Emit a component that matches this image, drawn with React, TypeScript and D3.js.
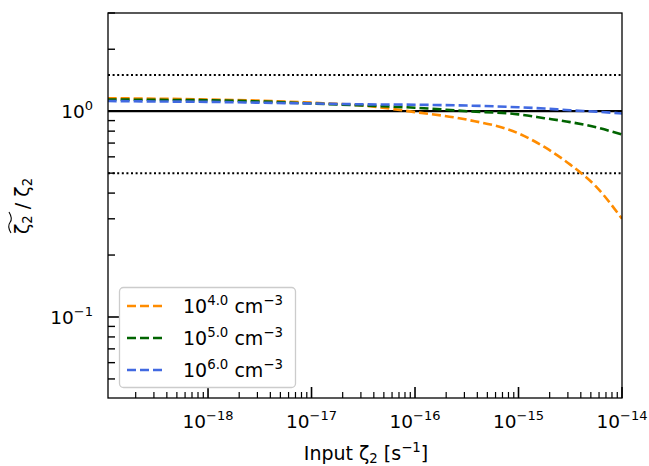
import React from 'react';
import * as d3 from 'd3';

// x sample points (log10 of input zeta_2, s^-1)
const logX = [-18.97, -18.5, -18, -17.5, -17, -16.5, -16, -15.5, -15, -14.75, -14.5, -14.25, -14];
// ratio recovered / input for each density
const orangeVals = [1.156, 1.15, 1.14, 1.125, 1.1, 1.065, 0.99, 0.91, 0.78, 0.67, 0.55, 0.43, 0.3];
const greenVals = [1.14, 1.135, 1.13, 1.115, 1.09, 1.065, 1.04, 1.0, 0.965, 0.925, 0.885, 0.835, 0.77];
const blueVals = [1.12, 1.115, 1.11, 1.1, 1.09, 1.08, 1.075, 1.065, 1.045, 1.03, 1.01, 0.995, 0.975];

const seriesNames = ['4.0', '5.0', '6.0'];
const seriesColors = ['#ff8c00', '#006400', '#4169e1'];
const seriesData = [orangeVals, greenVals, blueVals];

const xMajor = [-18, -17, -16, -15, -14];
const yMajor = [-1, 0];
const refLines = [1.5, 0.5];

const W = 649, H = 466;
const m = { left: 108, right: 622, top: 13, bottom: 398 };
const font = 'DejaVu Sans, sans-serif';
const fs = 18.5, sfs = 13;

export default function App() {
  const x = d3.scaleLog().domain([1.08e-19, 1e-14]).range([m.left, m.right]);
  const y = d3.scaleLog().domain([0.0404, 3.0]).range([m.bottom, m.top]);

  const line = d3.line<[number, number]>()
    .x(d => x(d[0]))
    .y(d => y(d[1]))
    .curve(d3.curveMonotoneX);

  // minor ticks
  const xMinor: number[] = [];
  for (let e = -19; e < -14; e++) {
    for (let k = 2; k <= 9; k++) {
      const v = k * Math.pow(10, e);
      if (v >= 1.08e-19 && v <= 1e-14) xMinor.push(v);
    }
  }
  const yMinor: number[] = [];
  for (let e = -2; e <= 0; e++) {
    for (let k = 2; k <= 9; k++) {
      const v = k * Math.pow(10, e);
      if (v >= 0.0404 && v <= 3.001) yMinor.push(v);
    }
  }

  return (
    <div style={{ position: 'absolute', left: 0, top: 0 }}>
      <svg width={W} height={H} style={{ display: 'block', background: '#fff' }} fontFamily={font}>
        <defs>
          <clipPath id="plot">
            <rect x={m.left} y={m.top} width={m.right - m.left} height={m.bottom - m.top} />
          </clipPath>
        </defs>

        {/* reference lines */}
        <line x1={m.left} x2={m.right} y1={y(1)} y2={y(1)} stroke="#000" strokeWidth={2.2} />
        {refLines.map(v => (
          <line key={v} x1={m.left} x2={m.right} y1={y(v)} y2={y(v)} stroke="#000"
            strokeWidth={2} strokeDasharray="2,2.6" />
        ))}

        {/* curves */}
        <g clipPath="url(#plot)">
          {seriesData.map((vals, i) => (
            <path key={i}
              d={line(logX.map((lx, j) => [Math.pow(10, lx), vals[j]] as [number, number])) || ''}
              fill="none" stroke={seriesColors[i]} strokeWidth={2.6} strokeDasharray="9,4" />
          ))}
        </g>

        {/* ticks (inward) */}
        {xMajor.map(e => (
          <g key={e}>
            <line x1={x(Math.pow(10, e))} x2={x(Math.pow(10, e))} y1={m.bottom} y2={m.bottom - 11} stroke="#000" strokeWidth={1.6} />
            <text x={x(Math.pow(10, e))} y={428} fontSize={fs} textAnchor="middle">
              10<tspan dy={-8} fontSize={sfs}>{'\u2212' + (-e)}</tspan>
            </text>
          </g>
        ))}
        {xMinor.map(v => (
          <line key={v} x1={x(v)} x2={x(v)} y1={m.bottom} y2={m.bottom - 6} stroke="#000" strokeWidth={1.2} />
        ))}
        {yMajor.map(e => (
          <g key={e}>
            <line x1={m.left} x2={m.left + 11} y1={y(Math.pow(10, e))} y2={y(Math.pow(10, e))} stroke="#000" strokeWidth={1.6} />
            <text x={93} y={y(Math.pow(10, e)) + 7} fontSize={fs} textAnchor="end">
              10<tspan dy={-8} fontSize={sfs}>{e === 0 ? '0' : '\u22121'}</tspan>
            </text>
          </g>
        ))}
        {yMinor.map(v => (
          <line key={v} x1={m.left} x2={m.left + 7} y1={y(v)} y2={y(v)} stroke="#000" strokeWidth={1.4} />
        ))}

        {/* frame */}
        <rect x={m.left} y={m.top} width={m.right - m.left} height={m.bottom - m.top}
          fill="none" stroke="#000" strokeWidth={1.3} />

        {/* legend */}
        <rect x={119.5} y={287.5} width={176} height={100} rx={4} fill="#fff" fillOpacity={0.8}
          stroke="#cccccc" strokeWidth={1.3} />
        {seriesNames.map((n, i) => {
          const ly = 306 + i * 32;
          return (
            <g key={n}>
              <line x1={127} x2={166} y1={ly} y2={ly} stroke={seriesColors[i]} strokeWidth={2.6} strokeDasharray="9,4" />
              <text x={183} y={ly + 7} fontSize={19}>
                10<tspan dy={-8} fontSize={13.3}>{n}</tspan>
                <tspan dy={8}> cm</tspan>
                <tspan dy={-8} fontSize={13.3}>{'\u22123'}</tspan>
              </text>
            </g>
          );
        })}

        {/* axis labels */}
        <text x={366} y={460} fontSize={19} textAnchor="middle">
          Input ζ<tspan dy={3} fontSize={13.3}>2</tspan><tspan dy={-3}> [s</tspan>
          <tspan dy={-8} fontSize={13.3}>{'\u22121'}</tspan><tspan dy={8}>]</tspan>
        </text>
        <g transform="translate(29,204) rotate(-90)">
          <text x={-30} y={0} fontSize={19} textAnchor="start">
            ζ<tspan dy={3} fontSize={13.3}>2</tspan><tspan dy={-3}> / ζ</tspan>
            <tspan dy={3} fontSize={13.3}>2</tspan>
          </text>
          <path d="M-29,-18 C-24,-21 -21,-21 -18.5,-19 S-13,-17 -8,-20" fill="none" stroke="#000" strokeWidth={1.1} />
        </g>
      </svg>
    </div>
  );
}
